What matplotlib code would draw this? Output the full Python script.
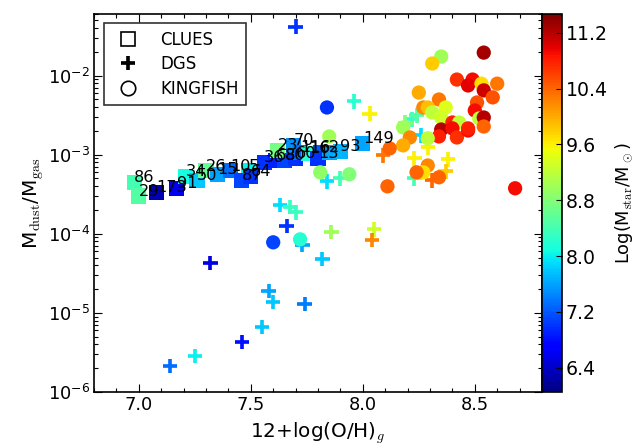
import numpy as np
import matplotlib
matplotlib.use("Agg")
import matplotlib.pyplot as plt
from matplotlib.lines import Line2D
from matplotlib.ticker import MultipleLocator, FormatStrFormatter

plt.rcParams['font.family'] = ['DejaVu Sans']
plt.rcParams['mathtext.fontset'] = 'cm'

# ---------------- data ----------------
# CLUES (squares, labelled)
clues_label = ['86', '29', '173', '91', '34', '50', '26', '15', '10', '5', '87', '64',
               '36', '68', '80', '60', '23', '70', '11', '16', '6', '13', '2', '93', '149']
clues_oh = [6.98, 7.00, 7.08, 7.17, 7.21, 7.26, 7.30, 7.35, 7.41, 7.49, 7.46, 7.50,
            7.56, 7.61, 7.65, 7.70, 7.62, 7.69, 7.72, 7.76, 7.81, 7.80, 7.85, 7.90, 8.00]
clues_dgr = [4.5e-4, 3.0e-4, 3.35e-4, 3.75e-4, 5.3e-4, 4.75e-4, 6.3e-4, 5.65e-4, 6.3e-4, 6.3e-4,
             4.75e-4, 5.3e-4, 8.0e-4, 8.5e-4, 8.5e-4, 9.0e-4, 1.13e-3, 1.31e-3, 1.07e-3, 1.04e-3,
             1.07e-3, 9.0e-4, 1.07e-3, 1.10e-3, 1.39e-3]
clues_mstar = [8.4, 8.5, 6.3, 6.6, 8.1, 7.8, 8.6, 7.6, 7.3, 8.0, 7.1, 7.0,
               7.0, 6.9, 7.1, 7.0, 8.7, 7.5, 7.3, 8.2, 7.2, 7.0, 7.6, 7.7, 7.6]

# DGS (plus markers)
dgs_oh = [7.70, 7.96, 8.03, 7.63, 7.675, 7.70, 7.66, 7.73, 7.32, 7.82, 7.86, 8.05, 8.04,
          7.58, 7.60, 7.74, 7.55, 7.46, 7.25, 7.14, 7.84, 7.90, 8.09, 8.23, 8.29, 8.38,
          8.37, 8.23, 8.31, 8.22, 8.24, 8.19, 8.26]
dgs_dgr = [4.15e-2, 4.7e-3, 3.3e-3, 2.3e-4, 2.17e-4, 1.87e-4, 1.25e-4, 7.2e-5, 4.26e-5, 4.8e-5,
           1.05e-4, 1.14e-4, 8.3e-5, 1.89e-5, 1.37e-5, 1.29e-5, 6.6e-6, 4.3e-6, 2.86e-6, 2.14e-6,
           4.6e-4, 5.0e-4, 9.8e-4, 9.0e-4, 1.24e-3, 8.7e-4, 6.15e-4, 5.0e-4, 4.74e-4, 2.79e-3,
           3.13e-3, 2.55e-3, 1.75e-3]
dgs_mstar = [7.0, 8.2, 9.6, 7.9, 8.3, 8.3, 7.0, 7.6, 6.5, 7.8, 9.0, 9.3, 10.2,
             7.6, 7.8, 7.4, 7.8, 6.8, 8.0, 7.3, 7.9, 8.4, 10.3, 9.6, 9.6, 9.6,
             9.8, 8.4, 10.4, 8.3, 8.5, 8.8, 7.9]

# KINGFISH (circles)
kf_oh = [8.54, 8.35, 8.31, 8.42, 8.49, 8.47, 8.53, 8.54, 8.60, 8.58, 8.51, 8.50, 8.52, 8.54,
         8.54, 8.25, 8.34, 8.27, 8.29, 8.31, 8.37, 8.35, 8.40, 8.43, 8.35, 8.34, 8.40, 8.42,
         8.47, 8.47, 8.18, 8.29, 8.21, 8.18, 8.12, 8.29, 8.27, 8.24, 8.34, 8.11, 8.68,
         7.84, 7.85, 7.81, 7.94, 7.60, 7.72]
kf_dgr = [1.95e-2, 1.74e-2, 1.42e-2, 8.9e-3, 8.9e-3, 7.5e-3, 7.9e-3, 6.5e-3, 7.9e-3, 5.3e-3,
          4.57e-3, 3.62e-3, 2.87e-3, 2.95e-3, 2.27e-3, 6.1e-3, 4.98e-3, 3.95e-3, 3.95e-3, 3.41e-3,
          3.95e-3, 2.95e-3, 2.55e-3, 2.55e-3, 2.08e-3, 1.70e-3, 2.15e-3, 1.65e-3, 2.02e-3, 2.15e-3,
          2.21e-3, 1.61e-3, 1.65e-3, 1.31e-3, 1.20e-3, 7.3e-4, 5.98e-4, 5.98e-4, 5.18e-4, 3.98e-4,
          3.76e-4, 3.95e-3, 1.70e-3, 5.98e-4, 5.65e-4, 7.8e-5, 8.5e-5]
kf_mstar = [11.3, 9.0, 9.8, 10.7, 10.9, 11.0, 9.7, 11.1, 10.3, 10.5, 10.5, 10.9, 9.2, 11.2,
            10.4, 10.0, 10.3, 10.2, 9.9, 9.2, 9.4, 9.3, 10.8, 9.2, 11.2, 10.8, 10.9, 10.7,
            10.9, 10.8, 9.0, 9.2, 10.2, 10.0, 10.4, 10.2, 9.7, 10.4, 10.4, 10.4, 10.9,
            7.0, 9.0, 8.9, 8.8, 7.1, 8.2]

cbar_ticks = [6.4, 7.2, 8.0, 8.8, 9.6, 10.4, 11.2]

# ---------------- figure ----------------
fig = plt.figure(figsize=(641 / 80, 448 / 80), dpi=80)
ax = fig.add_axes([94 / 641, 56 / 448, 448 / 641, 378 / 448])
cax = fig.add_axes([542 / 641, 56 / 448, 20 / 641, 378 / 448])

vmin, vmax = 6.05, 11.47
cmap = 'jet'

sc = ax.scatter(clues_oh, clues_dgr, c=clues_mstar, cmap=cmap, vmin=vmin, vmax=vmax,
                marker='s', s=185, edgecolors='none', zorder=2)
ax.scatter(dgs_oh, dgs_dgr, c=dgs_mstar, cmap=cmap, vmin=vmin, vmax=vmax,
           marker='+', s=170, linewidths=3.3, zorder=3)
ax.scatter(kf_oh, kf_dgr, c=kf_mstar, cmap=cmap, vmin=vmin, vmax=vmax,
           marker='o', s=165, edgecolors='none', zorder=4)

for lab, x, y in zip(clues_label, clues_oh, clues_dgr):
    ax.text(x, y, lab, fontsize=14.5, color='black', zorder=5)

ax.set_yscale('log')
ax.set_xlim(6.8, 8.8)
ax.set_ylim(1e-6, 6e-2)
ax.xaxis.set_major_locator(MultipleLocator(0.5))
ax.xaxis.set_minor_locator(MultipleLocator(0.1))
ax.xaxis.set_major_formatter(FormatStrFormatter('%.1f'))
ax.tick_params(which='both', direction='in', top=True, right=True, labelsize=16, width=1)
ax.tick_params(which='major', length=7)
ax.tick_params(which='minor', length=3.5)
for sp in ax.spines.values():
    sp.set_linewidth(1.5)

ax.set_xlabel(r'12+log(O/H)$_g$', fontsize=18, labelpad=6)
ax.set_ylabel(r'M$_{\rm dust}$/M$_{\rm gas}$', fontsize=18, labelpad=2)

handles = [
    Line2D([], [], marker='s', linestyle='none', markerfacecolor='white',
           markeredgecolor='black', markeredgewidth=1.5, markersize=13),
    Line2D([], [], marker='+', linestyle='none', color='black',
           markeredgewidth=3.3, markersize=13),
    Line2D([], [], marker='o', linestyle='none', markerfacecolor='white',
           markeredgecolor='black', markeredgewidth=1.5, markersize=13),
]
leg = ax.legend(handles, ['CLUES', 'DGS', 'KINGFISH'], loc='upper left',
                bbox_to_anchor=(0.015, 0.985), fontsize=15, frameon=True, fancybox=False,
                edgecolor='black', borderpad=0.45, labelspacing=0.4, handletextpad=0.9,
                borderaxespad=0.2)
leg.get_frame().set_linewidth(1.5)
leg.set_zorder(10)

cb = fig.colorbar(sc, cax=cax, ticks=cbar_ticks)
cb.ax.yaxis.set_major_formatter(FormatStrFormatter('%.1f'))
cb.ax.tick_params(direction='in', length=5, labelsize=17, width=1)
cb.outline.set_linewidth(1.5)
cb.set_label(r'Log(M$_{\rm star}$/M$_\odot$)', fontsize=16, labelpad=5)

fig.savefig('out.png', dpi=80)
